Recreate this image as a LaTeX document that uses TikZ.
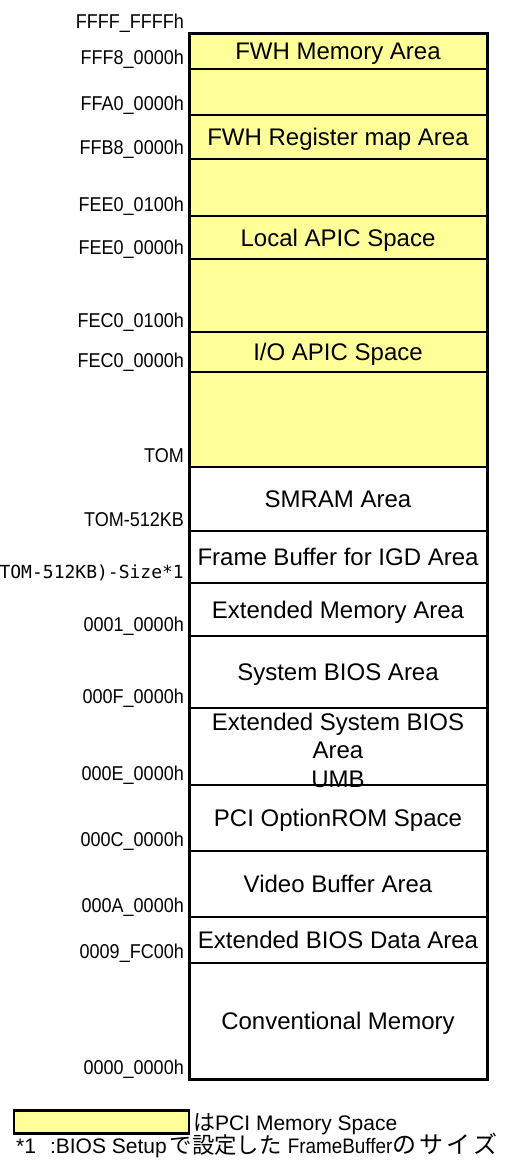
\documentclass[tikz,border=0pt]{standalone}
\usepackage{fontspec}
\setmainfont{Liberation Sans}
\newfontfamily\addrfont[FakeStretch=0.9]{Liberation Sans}
\newfontfamily\monofont{DejaVu Sans Mono}
\newfontfamily\jpfont{Noto Sans CJK JP}
\usetikzlibrary{positioning}
\definecolor{pciyellow}{HTML}{FFFF99}

\begin{document}
\begin{tikzpicture}[
    x=1pt, y=-1pt,
    node distance=0pt,
    region/.style={rectangle, draw=black, line width=2pt, outer sep=0pt, inner sep=0pt, minimum width=298pt, text height=17pt, text depth=0pt, font=\fontsize{24}{28.5}\selectfont},
    pcimem/.style={region, fill=pciyellow},
    addr/.style={anchor=base east, inner sep=0pt, font=\addrfont\fontsize{20}{20}\selectfont},
    note/.style={anchor=base west, inner sep=0pt, font=\fontsize{21}{21}\selectfont}
]
    \useasboundingbox (0,0) rectangle (521,1165);
    \coordinate (axis) at (184,0);

    % PCI memory space
    \node[pcimem, minimum height=36pt, anchor=north] (fwhmem) at (338,33) {FWH Memory Area};
    \node[pcimem, minimum height=46pt, below=of fwhmem] (gapa) {};
    \node[pcimem, minimum height=44pt, below=of gapa] (fwhreg) {FWH Register map Area};
    \node[pcimem, minimum height=57pt, below=of fwhreg] (gapb) {};
    \node[pcimem, minimum height=43pt, below=of gapb] (lapic) {Local APIC Space};
    \node[pcimem, minimum height=73pt, below=of lapic] (gapc) {};
    \node[pcimem, minimum height=40pt, below=of gapc] (ioapic) {I/O APIC Space};
    \node[pcimem, minimum height=95pt, below=of ioapic] (gapd) {};

    % main memory
    \node[region, minimum height=64pt, below=of gapd] (smram) {SMRAM Area};
    \node[region, minimum height=52pt, below=of smram] (igdfb) {Frame Buffer for IGD Area};
    \node[region, minimum height=53pt, below=of igdfb] (extmem) {Extended Memory Area};
    \node[region, minimum height=72pt, below=of extmem] (sysbios) {System BIOS Area};
    \node[region, minimum height=77pt, text height=22pt, text depth=55pt, below=of sysbios] (extbios) {\parbox[t]{298pt}{\centering Extended System BIOS\\Area\\UMB}};
    \node[region, minimum height=66pt, below=of extbios] (optrom) {PCI OptionROM Space};
    \node[region, minimum height=66pt, below=of optrom] (vidbuf) {Video Buffer Area};
    \node[region, minimum height=46pt, below=of vidbuf] (ebda) {Extended BIOS Data Area};
    \node[region, minimum height=116pt, below=of ebda] (convmem) {Conventional Memory};

    \draw[line width=3pt] (fwhmem.north west) rectangle (convmem.south east);

    % addresses
    \node[addr] (afffff) at ([yshift=5pt]fwhmem.north -| axis) {FFFF\_FFFFh};
    \node[addr] (afff8) at ([yshift=5pt]fwhmem.south -| axis) {FFF8\_0000h};
    \node[addr] (affa0) at ([yshift=5pt]gapa.south -| axis) {FFA0\_0000h};
    \node[addr] (affb8) at ([yshift=5pt]fwhreg.south -| axis) {FFB8\_0000h};
    \node[addr] (afee1) at ([yshift=5pt]gapb.south -| axis) {FEE0\_0100h};
    \node[addr] (afee0) at ([yshift=5pt]lapic.south -| axis) {FEE0\_0000h};
    \node[addr] (afec1) at ([yshift=5pt]gapc.south -| axis) {FEC0\_0100h};
    \node[addr] (afec0) at ([yshift=5pt]ioapic.south -| axis) {FEC0\_0000h};
    \node[addr] (atom) at ([yshift=5pt]gapd.south -| axis) {TOM};
    \node[addr] (atomsm) at ([yshift=5pt]smram.south -| axis) {TOM-512KB};
    \node[addr, font=\monofont\fontsize{18}{18}\selectfont] (atomfb) at ([yshift=5pt]igdfb.south -| axis) {(TOM-512KB)-Size*1};
    \node[addr] (a10000) at ([yshift=5pt]extmem.south -| axis) {0001\_0000h};
    \node[addr] (af0000) at ([yshift=5pt]sysbios.south -| axis) {000F\_0000h};
    \node[addr] (ae0000) at ([yshift=5pt]extbios.south -| axis) {000E\_0000h};
    \node[addr] (ac0000) at ([yshift=5pt]optrom.south -| axis) {000C\_0000h};
    \node[addr] (aa0000) at ([yshift=5pt]vidbuf.south -| axis) {000A\_0000h};
    \node[addr] (a9fc00) at ([yshift=5pt]ebda.south -| axis) {0009\_FC00h};
    \node[addr] (a00000) at ([yshift=5pt]convmem.south -| axis) {0000\_0000h};

    % legend
    \node[draw=black, line width=2.7pt, fill=pciyellow, outer sep=0pt, inner sep=0pt, minimum width=175pt, minimum height=23pt, anchor=north west] (legendbox) at (14,1110.5) {};
    \node[note] (legendtext) at (193,1130) {{\jpfont\fontsize{22}{22}\selectfont は}PCI Memory Space};
    \node[note] (footnote) at (16,1153) {*1\hspace{14pt}:BIOS Setup\hspace{3pt}{\jpfont\fontsize{22.4}{22.4}\selectfont で設定した}\hspace{6pt}{\addrfont FrameBuffer}{\jpfont\fontsize{24}{24}\selectfont の\hspace{3pt}サ\hspace{3pt}イ\hspace{3pt}ズ}};
\end{tikzpicture}
\end{document}
